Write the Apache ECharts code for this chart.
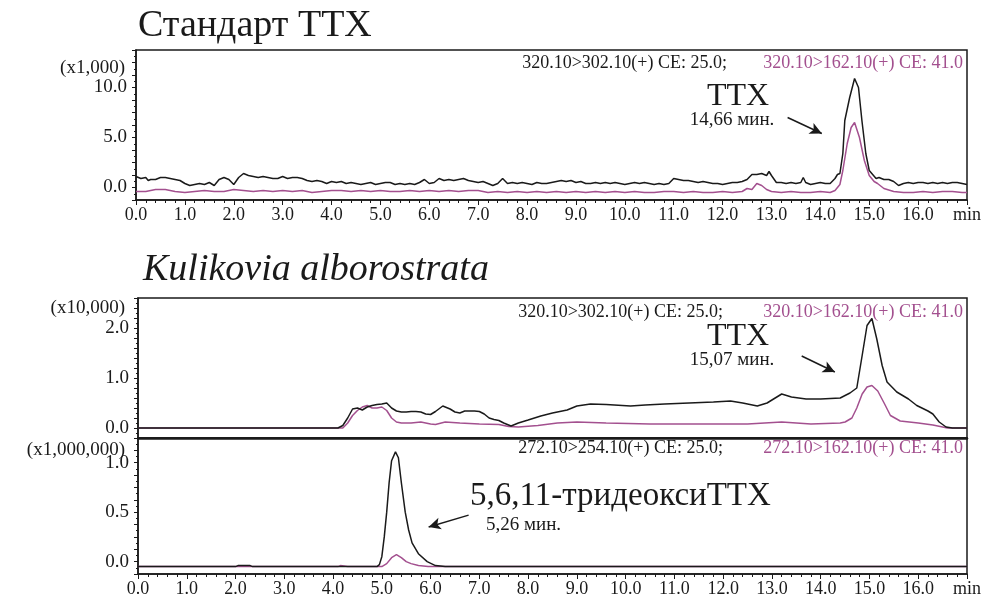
<!DOCTYPE html>
<html>
<head>
    <meta charset="utf-8">
    <title>TTX</title>
    <script src="https://cdn.jsdelivr.net/npm/echarts@6/dist/echarts.min.js"></script>
    <style>
        html, body { margin: 0; padding: 0; background: #fff; }
        #chart { width: 989px; height: 598px; }
    </style>
</head>
<body>
<div id="chart"></div>
<script>
    // стандарт TTX, x1,000 (время, мин)
    var topBlack = [
        [0.0,1.1],[0.1,0.9],[0.2,1.0],[0.25,0.7],[0.3,0.8],[0.4,0.8],[0.5,1.0],[0.6,1.0],[0.7,0.9],[0.8,0.8],[0.9,0.7],
        [1.0,0.4],[1.1,0.2],[1.2,0.3],[1.3,0.4],[1.4,0.3],[1.5,0.5],[1.6,0.2],[1.7,0.8],[1.8,1.0],[1.9,0.8],
        [2.0,0.3],[2.1,1.0],[2.2,1.4],[2.3,1.2],[2.4,1.1],[2.5,1.0],[2.6,1.1],[2.7,1.0],[2.8,0.9],[2.9,0.9],
        [3.0,1.1],[3.1,0.9],[3.2,1.0],[3.3,1.0],[3.4,0.9],[3.5,0.7],[3.6,0.6],[3.7,0.7],[3.8,0.6],[3.9,0.4],
        [4.0,0.6],[4.1,0.5],[4.2,0.6],[4.3,0.4],[4.4,0.5],[4.5,0.4],[4.6,0.3],[4.7,0.4],[4.8,0.5],[4.9,0.3],
        [5.0,0.4],[5.1,0.5],[5.2,0.5],[5.3,0.3],[5.4,0.4],[5.5,0.3],[5.6,0.4],[5.7,0.3],[5.8,0.5],[5.9,0.8],
        [6.0,0.4],[6.1,0.5],[6.2,0.9],[6.3,0.7],[6.4,0.8],[6.5,0.7],[6.6,0.8],[6.7,0.9],[6.8,0.7],[6.9,0.6],
        [7.0,0.5],[7.1,0.6],[7.2,0.4],[7.3,0.2],[7.4,0.4],[7.5,0.9],[7.6,0.4],[7.7,0.5],[7.8,0.4],[7.9,0.5],
        [8.0,0.4],[8.1,0.3],[8.2,0.5],[8.3,0.4],[8.4,0.4],[8.5,0.5],[8.6,0.6],[8.7,0.7],[8.8,0.6],[8.9,0.7],
        [9.0,0.5],[9.1,0.6],[9.2,0.4],[9.3,0.4],[9.4,0.5],[9.5,0.4],[9.6,0.5],[9.7,0.4],[9.8,0.5],[9.9,0.4],
        [10.0,0.3],[10.1,0.4],[10.2,0.5],[10.3,0.4],[10.4,0.5],[10.5,0.4],[10.6,0.3],[10.7,0.4],[10.8,0.3],[10.9,0.4],
        [11.0,0.9],[11.1,0.8],[11.2,0.7],[11.3,0.7],[11.4,0.6],[11.5,0.5],[11.6,0.6],[11.7,0.5],[11.8,0.4],[11.9,0.4],
        [12.0,0.3],[12.1,0.4],[12.2,0.5],[12.3,0.5],[12.4,0.6],[12.5,0.8],[12.6,1.3],[12.7,1.3],[12.8,1.4],[12.9,1.2],
        [12.95,1.6],[13.0,1.2],[13.1,0.5],[13.2,0.5],[13.3,0.4],[13.4,0.5],[13.5,0.4],[13.6,0.5],[13.65,1.0],[13.7,0.5],
        [13.8,0.3],[13.9,0.4],[14.0,0.5],[14.1,0.4],[14.2,0.4],[14.3,0.9],[14.35,1.3],[14.4,1.4],[14.46,3.4],[14.5,6.7],
        [14.6,9.0],[14.7,10.9],[14.78,10.0],[14.85,6.7],[14.93,3.4],[15.0,1.7],[15.14,0.9],[15.2,1.0],[15.3,0.8],[15.4,0.8],
        [15.5,0.6],[15.6,0.2],[15.7,0.4],[15.8,0.5],[15.9,0.4],[16.0,0.5],[16.1,0.5],[16.2,0.4],[16.3,0.5],[16.4,0.4],
        [16.5,0.5],[16.6,0.4],[16.7,0.5],[16.8,0.5],[16.9,0.4],[17.0,0.3]
    ];
    var topPink = [
        [0.0,-0.4],[0.2,-0.4],[0.4,-0.2],[0.6,-0.2],[0.8,-0.4],[1.0,-0.5],[1.2,-0.4],[1.4,-0.3],[1.6,-0.4],[1.8,-0.4],
        [2.0,-0.2],[2.2,-0.3],[2.4,-0.4],[2.6,-0.3],[2.8,-0.4],[3.0,-0.3],[3.2,-0.4],[3.4,-0.3],[3.6,-0.5],[3.8,-0.4],
        [4.0,-0.3],[4.2,-0.3],[4.4,-0.4],[4.6,-0.3],[4.8,-0.4],[5.0,-0.3],[5.2,-0.4],[5.4,-0.4],[5.6,-0.3],[5.8,-0.4],
        [6.0,-0.3],[6.2,-0.4],[6.4,-0.3],[6.6,-0.4],[6.8,-0.3],[7.0,-0.3],[7.2,-0.5],[7.4,-0.4],[7.6,-0.5],[7.8,-0.4],
        [8.0,-0.5],[8.2,-0.4],[8.4,-0.5],[8.6,-0.4],[8.8,-0.5],[9.0,-0.4],[9.2,-0.5],[9.4,-0.4],[9.6,-0.5],[9.8,-0.4],
        [10.0,-0.5],[10.2,-0.4],[10.4,-0.5],[10.6,-0.5],[10.8,-0.4],[11.0,-0.4],[11.2,-0.5],[11.4,-0.4],[11.6,-0.5],[11.8,-0.5],
        [12.0,-0.4],[12.2,-0.5],[12.4,-0.4],[12.5,-0.1],[12.6,-0.2],[12.7,0.4],[12.8,0.2],[12.9,-0.2],[13.0,-0.4],[13.2,-0.5],
        [13.4,-0.4],[13.6,-0.5],[13.8,-0.5],[14.0,-0.4],[14.2,-0.5],[14.3,-0.3],[14.4,0.3],[14.46,1.7],[14.55,4.4],[14.63,6.0],
        [14.7,6.5],[14.8,5.0],[14.9,2.7],[15.0,1.2],[15.1,0.6],[15.17,0.4],[15.3,-0.1],[15.5,-0.4],[15.7,-0.5],[15.9,-0.5],
        [16.1,-0.4],[16.3,-0.5],[16.5,-0.4],[16.7,-0.4],[16.9,-0.5],[17.0,-0.5]
    ];
    // Kulikovia alborostrata, TTX, x10,000
    var midBlack = [
        [0,0],[4.1,0],[4.2,0.05],[4.3,0.2],[4.4,0.38],[4.5,0.4],[4.6,0.36],[4.7,0.42],[4.8,0.45],[4.9,0.47],
        [5.0,0.48],[5.1,0.5],[5.2,0.4],[5.3,0.34],[5.4,0.32],[5.5,0.32],[5.6,0.33],[5.7,0.33],[5.8,0.32],[5.9,0.28],
        [6.0,0.27],[6.1,0.33],[6.25,0.44],[6.4,0.38],[6.5,0.32],[6.6,0.3],[6.7,0.34],[6.9,0.34],[7.0,0.33],[7.1,0.28],
        [7.2,0.2],[7.3,0.17],[7.4,0.15],[7.5,0.1],[7.65,0.04],[7.8,0.1],[8.0,0.16],[8.26,0.24],[8.5,0.3],[8.8,0.36],
        [9.0,0.44],[9.28,0.48],[9.6,0.47],[10.1,0.44],[10.4,0.46],[10.8,0.48],[11.3,0.5],[11.8,0.52],[12.15,0.54],[12.4,0.5],
        [12.7,0.44],[12.9,0.5],[13.2,0.68],[13.4,0.62],[13.7,0.58],[14.0,0.58],[14.4,0.6],[14.6,0.7],[14.74,0.8],[14.85,1.45],
        [14.95,2.05],[15.05,2.19],[15.15,1.78],[15.26,1.25],[15.36,0.92],[15.56,0.72],[15.8,0.58],[15.97,0.45],[16.2,0.34],[16.3,0.28],
        [16.43,0.12],[16.57,0.02],[16.7,0],[17.0,0]
    ];
    var midPink = [
        [0,0],[4.2,0],[4.3,0.1],[4.4,0.25],[4.5,0.35],[4.6,0.42],[4.7,0.45],[4.8,0.4],[4.9,0.4],[5.0,0.42],
        [5.1,0.35],[5.2,0.2],[5.3,0.12],[5.4,0.1],[5.6,0.1],[5.8,0.12],[6.0,0.08],[6.1,0.07],[6.3,0.12],[6.6,0.1],
        [7.0,0.08],[7.4,0.07],[7.6,0.03],[7.8,0.02],[8.2,0.05],[8.6,0.1],[9.0,0.12],[9.6,0.1],[10.5,0.08],[11.5,0.08],
        [12.5,0.08],[13.2,0.12],[13.8,0.08],[14.4,0.1],[14.5,0.12],[14.64,0.2],[14.74,0.4],[14.85,0.68],[14.95,0.82],[15.05,0.85],
        [15.17,0.74],[15.3,0.5],[15.43,0.25],[15.63,0.14],[16.0,0.1],[16.3,0.06],[16.6,0],[17.0,0]
    ];
    // 5,6,11-тридеоксиTTX, x1,000,000
    var lowBlack = [
        [0,-0.05],[2.0,-0.05],[2.05,-0.04],[2.3,-0.04],[2.35,-0.05],[4.9,-0.05],[4.95,-0.03],[5.0,0.05],[5.05,0.25],[5.1,0.5],
        [5.15,0.8],[5.2,1.02],[5.28,1.11],[5.34,1.05],[5.4,0.8],[5.48,0.5],[5.55,0.32],[5.62,0.19],[5.75,0.08],[5.93,0.0],
        [6.1,-0.04],[6.3,-0.05],[17.0,-0.05]
    ];
    var lowPink = [
        [0,-0.05],[4.1,-0.05],[4.15,-0.04],[4.3,-0.05],[5.0,-0.05],[5.1,-0.02],[5.2,0.04],[5.3,0.07],[5.4,0.04],[5.5,0.0],
        [5.6,-0.02],[5.75,-0.04],[5.95,-0.05],[17.0,-0.05]
    ];
    var xTicks = {min: 0, max: 17, interval: 1};

    var serif = '"Liberation Serif", "Times New Roman", serif';
    var black = '#1a1a1a';
    var pink = '#a3508f';

    var myChart = echarts.init(document.getElementById('chart'));

    function xAxis(idx, showLabel) {
        return {
            type: 'value', gridIndex: idx,
            min: xTicks.min, max: xTicks.max, interval: xTicks.interval,
            axisLine: {onZero: false, lineStyle: {color: black, width: idx === 1 ? 2.5 : 1.5}},
            axisTick: {show: showLabel, length: 5, lineStyle: {color: black}},
            minorTick: {show: showLabel, splitNumber: 5, length: 3, lineStyle: {color: black}},
            splitLine: {show: false},
            axisLabel: {
                show: showLabel, margin: 6, color: black, fontFamily: serif, fontSize: 18,
                showMaxLabel: true,
                formatter: function (v) { return v === 17 ? 'min' : v.toFixed(1); }
            }
        };
    }

    function yAxis(idx, min, max, interval, step) {
        return {
            type: 'value', gridIndex: idx, min: min, max: max, interval: interval,
            axisLine: {show: true, onZero: false, lineStyle: {color: black, width: 1.5}},
            axisTick: {show: true, length: 4, lineStyle: {color: black}},
            minorTick: {show: true, splitNumber: 2, length: 2, lineStyle: {color: black}},
            splitLine: {show: false},
            axisLabel: {
                margin: 9, color: black, fontFamily: serif, fontSize: 19,
                formatter: function (v) {
                    var k = v / step;
                    return Math.abs(k - Math.round(k)) < 1e-6 ? v.toFixed(1) : '';
                }
            }
        };
    }

    function arrow(from, to) {
        return {
            silent: true, symbol: ['none', 'arrow'], symbolSize: [9, 12],
            lineStyle: {color: black, width: 1.5, type: 'solid'},
            label: {show: false},
            data: [[{coord: from}, {coord: to}]]
        };
    }

    function line(name, x, data, color, mark) {
        var s = {
            name: name, type: 'line', xAxisIndex: x, yAxisIndex: x, data: data,
            showSymbol: false, symbol: 'none',
            lineStyle: {color: color, width: 1.5}, itemStyle: {color: color}
        };
        if (mark) s.markLine = mark;
        return s;
    }

    function txt(text, x, y, size, color, align, style) {
        return {
            type: 'text', z: 100,
            style: {
                text: text, x: x, y: y, fill: color,
                font: (style || '') + ' ' + size + 'px ' + serif,
                textAlign: align, textVerticalAlign: 'middle'
            }
        };
    }

    myChart.setOption({
        animation: false,
        grid: [
            {left: 136, top: 50, width: 831, height: 150, show: true, borderColor: black, borderWidth: 1.5},
            {left: 138, top: 298, width: 829, height: 140, show: true, borderColor: black, borderWidth: 1.5},
            {left: 138, top: 438, width: 829, height: 136, show: true, borderColor: black, borderWidth: 1.5}
        ],
        xAxis: [xAxis(0, true), xAxis(1, false), xAxis(2, true)],
        yAxis: [
            yAxis(0, -1.25, 13.75, 1.25, 5),
            yAxis(1, -0.2, 2.6, 0.2, 1),
            yAxis(2, -0.125, 1.25, 0.125, 0.5)
        ],
        series: [
            line('320.10>162.10(+) CE: 41.0', 0, topPink, pink),
            line('320.10>302.10(+) CE: 25.0', 0, topBlack, black, arrow([13.33, 7.0], [14.03, 5.4])),
            line('320.10>162.10(+) CE: 41.0', 1, midPink, pink),
            line('320.10>302.10(+) CE: 25.0', 1, midBlack, black, arrow([13.61, 1.44], [14.29, 1.12])),
            line('272.10>162.10(+) CE: 41.0', 2, lowPink, pink),
            line('272.10>254.10(+) CE: 25.0', 2, lowBlack, black, arrow([6.78, 0.47], [5.96, 0.35]))
        ],
        graphic: [
            txt('Стандарт TTX', 138, 26, 38, black, 'left'),
            txt('Kulikovia alborostrata', 143, 270, 38, black, 'left', 'italic'),
            txt('(x1,000)', 125, 68, 19, black, 'right'),
            txt('(x10,000)', 125, 308, 19, black, 'right'),
            txt('(x1,000,000)', 125, 450, 19, black, 'right'),
            txt('320.10>302.10(+) CE: 25.0;', 727, 63, 18, black, 'right'),
            txt('320.10>162.10(+) CE: 41.0', 963, 63, 18, pink, 'right'),
            txt('320.10>302.10(+) CE: 25.0;', 723, 312, 18, black, 'right'),
            txt('320.10>162.10(+) CE: 41.0', 963, 312, 18, pink, 'right'),
            txt('272.10>254.10(+) CE: 25.0;', 723, 448, 18, black, 'right'),
            txt('272.10>162.10(+) CE: 41.0', 963, 448, 18, pink, 'right'),
            txt('TTX', 738, 97, 32, black, 'center'),
            txt('14,66 мин.', 732, 120, 19, black, 'center'),
            txt('TTX', 738, 337, 32, black, 'center'),
            txt('15,07 мин.', 732, 360, 19, black, 'center'),
            txt('5,6,11-тридеоксиTTX', 470, 496, 33, black, 'left'),
            txt('5,26 мин.', 486, 525, 19, black, 'left')
        ]
    });
</script>
</body>
</html>
